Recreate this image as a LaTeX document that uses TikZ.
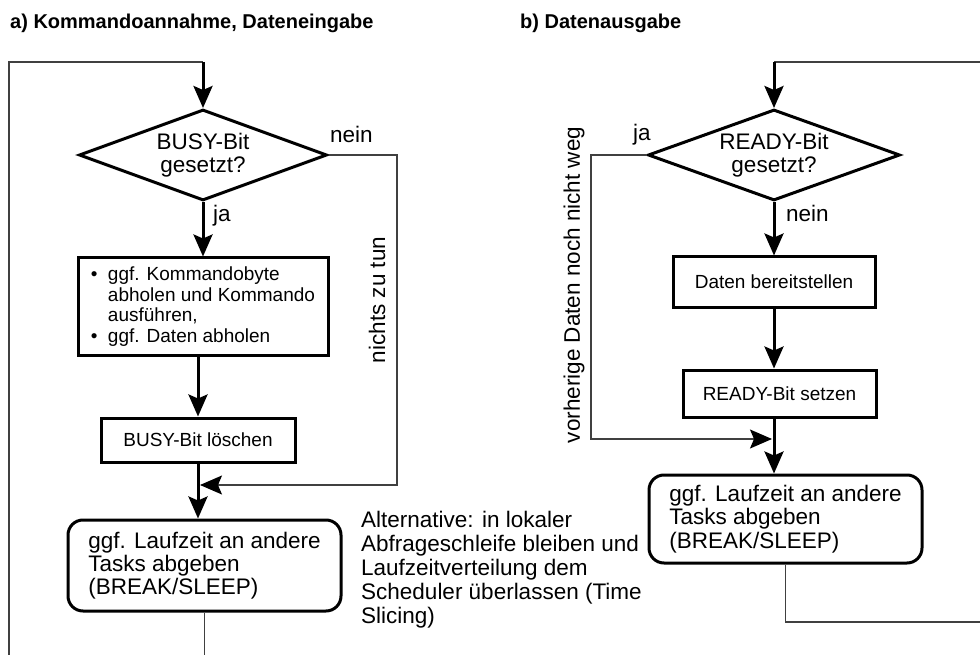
\documentclass[tikz,border=0pt]{standalone}
\usepackage{fontspec}
\setmainfont{Liberation Sans}
\usetikzlibrary{shapes.geometric,arrows.meta}
\newcommand\fBox{\fontsize{19}{20.7}\selectfont}
\newcommand\fBig{\fontsize{22.5}{23.3}\selectfont}
\newcommand\fAlt{\fontsize{22.5}{24}\selectfont}
\newcommand\fHead{\fontsize{20}{24}\selectfont\bfseries}
\begin{document}
\begin{tikzpicture}[x=1pt,y=-1pt,
  flow/.style={line width=3pt},
  loopline/.style={line width=1.2pt, draw=black!75},
  tip/.style={-{Stealth[length=22pt,width=19pt,inset=4pt,color=black]}},
  decision/.style={diamond, aspect=2.75, draw, line width=3pt, inner sep=0pt,
    minimum height=91pt, align=center, font=\fBig},
  stepbox/.style={rectangle, draw, line width=3pt, inner sep=0pt,
    align=left, font=\fBox},
  roundbox/.style={rectangle, rounded corners=15pt, draw, line width=3pt,
    inner sep=0pt, align=left, font=\fBig},
  lbl/.style={inner sep=0pt, font=\fBig},
  heading/.style={inner sep=0pt, anchor=base west, font=\fHead}
]
\useasboundingbox (0,0) rectangle (980,655);

% headings
\node[heading] (ta) at (10,29) {a) Kommandoannahme, Dateneingabe};
\node[heading] (tb) at (520,29) {b) Datenausgabe};

% ---------- a) command intake / data input ----------
\node[decision, minimum width=248pt] (d1) at (203,155) {BUSY-Bit\\gesetzt?};
\node[stepbox, minimum width=250pt, minimum height=97pt] (b1) at (203,306.5)
  {\makebox[17pt][l]{\textbullet}ggf. Kommandobyte\\
   \hspace*{17pt}abholen und Kommando\\
   \hspace*{17pt}ausführen,\\
   \makebox[17pt][l]{\textbullet}ggf. Daten abholen};
\node[stepbox, minimum width=194pt, minimum height=44pt] (b2) at (198,440)
  {BUSY-Bit löschen};
\node[roundbox, minimum width=273pt, minimum height=91pt] (r1) at (204.5,565.5)
  {ggf. Laufzeit an andere\\Tasks abgeben\\(BREAK/SLEEP)};

\coordinate (tl) at (9,62);
\coordinate (tc) at (203,62);
\coordinate (bl) at (9,655);
\coordinate (nk) at (397,485);
\coordinate (j1) at (200,485);

\draw[loopline] (bl) -- (tl) -- (tc);
\draw[flow,tip] (tc) -- (d1.north);
\draw[flow,tip] (d1.south) -- (b1.north);
\draw[flow,tip] (b2.north |- b1.south) -- (b2.north);
\draw[flow,tip] (b2.south) -- (b2.south |- r1.north);
\draw[loopline,tip] (d1.east) -| (nk) -- (j1);
\draw[loopline] (r1.south) -- (r1.south |- bl);

\node[lbl, anchor=base west] (nein1) at (330,143) {nein};
\node[lbl, anchor=base west] (ja1) at (213,222) {ja};
\node[lbl, rotate=90] (ntt) at (377,300) {nichts zu tun};

\node[inner sep=0pt, anchor=west, align=left, font=\fAlt] (alt) at (361,570)
  {Alternative: in lokaler\\Abfrageschleife bleiben und\\Laufzeitverteilung dem\\
   Scheduler überlassen (Time\\Slicing)};

% ---------- b) data output ----------
\node[decision, minimum width=252pt] (d2) at (774,155) {READY-Bit\\gesetzt?};
\node[stepbox, minimum width=202pt, minimum height=50pt] (b3) at (774,282)
  {Daten bereitstellen};
\node[stepbox, minimum width=193pt, minimum height=47pt] (b4) at (779.5,393.5)
  {READY-Bit setzen};
\node[roundbox, minimum width=273pt, minimum height=88pt] (r2) at (785.5,519)
  {ggf. Laufzeit an andere\\Tasks abgeben\\(BREAK/SLEEP)};

\coordinate (tr0) at (774,62);
\coordinate (tr1) at (980,62);
\coordinate (jk) at (591,439);
\coordinate (j2) at (772,439);
\coordinate (rb) at (785.5,622);
\coordinate (rr) at (980,622);

\draw[loopline] (tr1) -- (tr0);
\draw[flow,tip] (tr0) -- (d2.north);
\draw[flow,tip] (d2.south) -- (b3.north);
\draw[flow,tip] (b3.south) -- (b3.south |- b4.north);
\draw[flow,tip] (b4.south -| b3.south) -- (r2.north -| b3.south);
\draw[loopline,tip] (d2.west) -| (jk) -- (j2);
\draw[loopline] (r2.south) -- (rb) -- (rr);

\node[lbl, anchor=base west] (ja2) at (633,141) {ja};
\node[lbl, anchor=base west] (nein2) at (786,222) {nein};
\node[lbl, rotate=90] (vdn) at (574,285) {vorherige Daten noch nicht weg};
\end{tikzpicture}
\end{document}
